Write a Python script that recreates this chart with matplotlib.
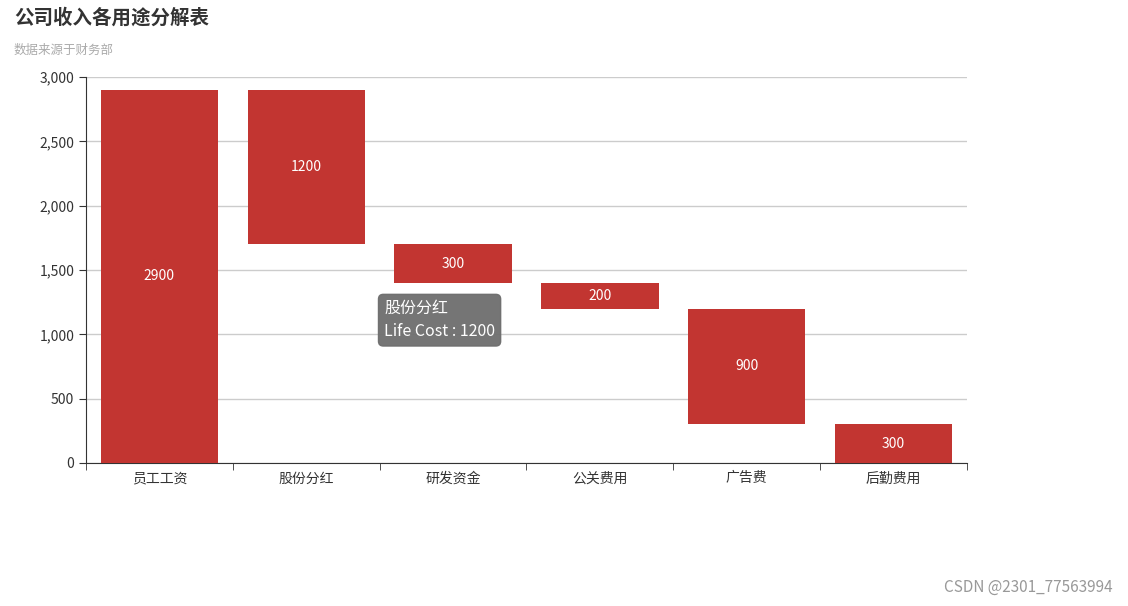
import matplotlib
matplotlib.use("Agg")
import matplotlib.pyplot as plt
from matplotlib.ticker import FuncFormatter

plt.rcParams['font.family'] = ['Noto Sans CJK SC', 'DejaVu Sans']

categories = ['员工工资', '股份分红', '研发资金', '公关费用', '广告费', '后勤费用']
bases = [0, 1700, 1400, 1200, 300, 0]
values = [2900, 1200, 300, 200, 900, 300]

fig = plt.figure(figsize=(11.28, 6.06), dpi=100)
ax = fig.add_axes([86/1128, 1-463/606, 881/1128, 386/606])
x = list(range(len(categories)))
ax.bar(x, values, bottom=bases, width=0.8, color='#c23531', zorder=3)
for xi, b, v in zip(x, bases, values):
    ax.text(xi, b + v/2, str(v), ha='center', va='center', color='white', fontsize=10, zorder=4)

ax.set_xlim(-0.5, len(categories)-0.5)
ax.set_ylim(0, 3000)
ax.set_yticks(range(0, 3001, 500))
ax.yaxis.set_major_formatter(FuncFormatter(lambda v, p: f'{int(v):,}'))
ax.set_xticks(x)
ax.set_xticklabels(categories)
ax.set_xticks([i-0.5 for i in range(len(categories)+1)], minor=True)
ax.tick_params(axis='x', which='major', length=0, pad=6, labelsize=10, colors='#333')
ax.tick_params(axis='x', which='minor', length=5, color='#333')
ax.tick_params(axis='y', length=5, color='#333', labelsize=10, labelcolor='#333')
ax.grid(axis='y', color='#ccc', linewidth=1, zorder=0)
for s in ['top', 'right']:
    ax.spines[s].set_visible(False)
ax.spines['left'].set_color('#333')
ax.spines['bottom'].set_color('#333')

fig.text(14/1128, 1-18/606, '公司收入各用途分解表', fontsize=14, fontweight='bold', color='#333', va='center')
fig.text(14/1128, 1-50/606, '数据来源于财务部', fontsize=9, color='#aaa', va='center')

ax.text(1.53, 1110, '股份分红\nLife Cost : 1200', fontsize=11.5, color='white', va='center', ha='left',
        linespacing=1.5, zorder=6,
        bbox=dict(boxstyle='round,pad=0.35,rounding_size=0.3', fc='#6e6e6e', ec='#6e6e6e', alpha=0.95))

fig.text(1113/1128, 1-587/606, 'CSDN @2301_77563994', fontsize=11, color='#999', ha='right', va='center')
fig.savefig('out.png', dpi=100)
